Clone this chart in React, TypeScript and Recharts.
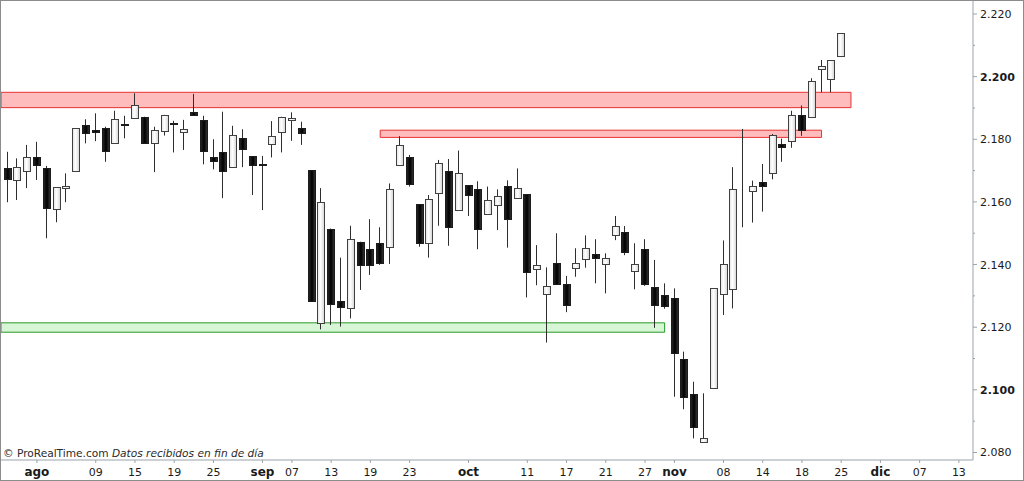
import { ComposedChart, Bar, XAxis, YAxis, ReferenceArea } from "recharts";

// trading-day index 0 = 27 Jul; Aug 1 = 3, Nov 25 = 85 (last session)
const opens = [
  2.1707, 2.167, 2.1699, 2.1742, 2.1709, 2.1576, 2.1644, 2.1699, 2.1846, 2.183,
  2.1835, 2.1789, 2.185, 2.1869, 2.1872, 2.1787, 2.1827, 2.1853, 2.1824, 2.1887,
  2.1861, 2.1742, 2.176, 2.1712, 2.1805, 2.1746, 2.1721, 2.1784, 2.1823, 2.1861,
  2.1837, 2.1702, 2.1214, 2.1515, 2.1285, 2.126, 2.1473, 2.145, 2.1468, 2.1455,
  2.1718, 2.1742, 2.1593, 2.147, 2.1628, 2.1698, 2.1573, 2.1654, 2.1641, 2.1561,
  2.1591, 2.1651, 2.1612, 2.1624, 2.1385, 2.1307, 2.1406, 2.1337, 2.139, 2.1418,
  2.1435, 2.1402, 2.1494, 2.1505, 2.1379, 2.1449, 2.1327, 2.1304, 2.1292, 2.1098,
  2.0986, 2.0832, 2.1005, 2.1305, 2.1321, 2.1684, 2.1635, 2.1665, 2.1691, 2.1784,
  2.1794, 2.1878, 2.1872, 2.2023, 2.1992, 2.2067,
];
const highs = [
  2.176, 2.1739, 2.1782, 2.1792, 2.1715, 2.1647, 2.1691, 2.1836, 2.1864, 2.1883,
  2.184, 2.1891, 2.1875, 2.1947, 2.1872, 2.184, 2.1878, 2.1859, 2.1862, 2.1945,
  2.1875, 2.18, 2.1888, 2.1843, 2.1832, 2.1746, 2.1747, 2.1858, 2.1872, 2.1886,
  2.1856, 2.1702, 2.1644, 2.1515, 2.1422, 2.1524, 2.1473, 2.1545, 2.1519, 2.1659,
  2.181, 2.175, 2.1593, 2.1622, 2.1734, 2.1737, 2.1764, 2.1654, 2.1666, 2.1649,
  2.164, 2.1669, 2.1707, 2.1624, 2.1462, 2.1391, 2.15, 2.1364, 2.1452, 2.1493,
  2.1481, 2.1436, 2.1555, 2.1523, 2.1468, 2.1481, 2.1415, 2.134, 2.1324, 2.1122,
  2.1026, 2.0989, 2.1324, 2.1477, 2.1711, 2.1833, 2.1668, 2.1721, 2.1817, 2.1802,
  2.1891, 2.1908, 2.1995, 2.2053, 2.2052, 2.2138,
];
const lows = [
  2.1599, 2.1606, 2.1644, 2.167, 2.1484, 2.1535, 2.1599, 2.1698, 2.1787, 2.1794,
  2.1728, 2.1789, 2.1803, 2.1869, 2.1789, 2.1695, 2.1812, 2.1758, 2.1766, 2.1876,
  2.172, 2.1704, 2.1612, 2.1712, 2.1711, 2.1622, 2.1574, 2.1742, 2.1758, 2.1795,
  2.1782, 2.1284, 2.1193, 2.1207, 2.1202, 2.1228, 2.1319, 2.1367, 2.1399, 2.1402,
  2.1718, 2.1649, 2.1457, 2.1422, 2.1524, 2.146, 2.1573, 2.1555, 2.1449, 2.1561,
  2.151, 2.1454, 2.1612, 2.1295, 2.1334, 2.1151, 2.1337, 2.1248, 2.1361, 2.139,
  2.134, 2.1308, 2.1478, 2.143, 2.1321, 2.1332, 2.1198, 2.1259, 2.0978, 2.0938,
  2.0845, 2.0832, 2.1005, 2.1239, 2.126, 2.1519, 2.1534, 2.1569, 2.1672, 2.1728,
  2.1773, 2.1811, 2.1872, 2.195, 2.195, 2.2067,
];
const closes = [
  2.1673, 2.1711, 2.1744, 2.1718, 2.158, 2.1647, 2.165, 2.1835, 2.1819, 2.1824,
  2.1763, 2.1866, 2.1846, 2.1909, 2.1789, 2.183, 2.1878, 2.1848, 2.1833, 2.1877,
  2.1763, 2.1732, 2.17, 2.1814, 2.177, 2.1718, 2.1718, 2.181, 2.1872, 2.1869,
  2.1821, 2.1284, 2.1601, 2.1274, 2.1264, 2.1483, 2.1399, 2.1399, 2.1404, 2.1641,
  2.1781, 2.1656, 2.147, 2.1608, 2.1723, 2.152, 2.1691, 2.1621, 2.1515, 2.1606,
  2.1618, 2.1546, 2.1644, 2.1375, 2.14, 2.1332, 2.1337, 2.1272, 2.1405, 2.1453,
  2.142, 2.142, 2.1523, 2.1441, 2.1402, 2.1337, 2.127, 2.1268, 2.1119, 2.0976,
  2.0882, 2.0847, 2.1324, 2.1402, 2.1641, 2.1684, 2.1652, 2.165, 2.1813, 2.1776,
  2.1878, 2.183, 2.1987, 2.2034, 2.2052, 2.2138,
];

const tickIdx = [3, 9, 13, 17, 21, 26, 29, 33, 37, 41, 47, 53, 57, 61, 65, 68, 73, 77, 81, 85, 89, 93, 97];
const tickLabels = ["ago", "09", "15", "19", "25", "sep", "07", "13", "19", "23", "oct", "11", "17", "21", "27", "nov", "08", "14", "18", "25", "dic", "07", "13"];
const monthLabels = ["ago", "sep", "oct", "nov", "dic"];

const yTicks = [2.08, 2.09, 2.1, 2.11, 2.12, 2.13, 2.14, 2.15, 2.16, 2.17, 2.18, 2.19, 2.2, 2.21, 2.22];
const boldTicks = [2.1, 2.2];

// support / resistance zones: [fromIdx, toIdx, low, high]
const resistTop = [null, 86, 2.1901, 2.195] as const;
const resistMid = [38, 83, 2.1806, 2.1829] as const;
const supportLow = [null, 67, 2.1184, 2.1214] as const;

const data = opens.map((o, i) => ({
  i,
  open: o,
  high: highs[i],
  low: lows[i],
  close: closes[i],
  range: [lows[i], highs[i]],
}));

function Candle(props: any) {
  const { x, y, width, height, payload } = props;
  if (height == null || !payload) return null;
  const top = Math.min(y, y + height);
  const h = Math.abs(height);
  const span = payload.high - payload.low;
  const k = span > 0 ? h / span : 0;
  const py = (v: number) => top + (payload.high - v) * k;
  const up = payload.close >= payload.open;
  const cx = Math.round(x + width / 2) - 0.5;
  const bTop = Math.round(py(Math.max(payload.open, payload.close)));
  const bBot = Math.round(py(Math.min(payload.open, payload.close)));
  return (
    <g>
      <line x1={cx} x2={cx} y1={top} y2={top + h} stroke="#2e2e2e" strokeWidth={1} />
      <rect
        x={Math.round(x) + 0.5}
        y={bTop + 0.5}
        width={Math.round(width) - 1}
        height={Math.max(bBot - bTop, 0)}
        fill={up ? "url(#upFill)" : "url(#downFill)"}
        stroke={up ? "#404040" : "#1c1c1c"}
        strokeWidth={1}
      />
    </g>
  );
}

function XTick(props: any) {
  const { x, y, payload } = props;
  const k = tickIdx.indexOf(payload.value);
  const label = tickLabels[k];
  const month = monthLabels.includes(label);
  return (
    <text
      x={x}
      y={y}
      dy={10.5}
      textAnchor="middle"
      fill="#1a1a1a"
      fontSize={month ? 12 : 11}
      fontWeight={month ? "bold" : "normal"}
      fontFamily="DejaVu Sans"
    >
      {label}
    </text>
  );
}

function YTick(props: any) {
  const { x, y, payload } = props;
  const v = payload.value as number;
  const major = Math.round(v * 100) % 2 === 0;
  const bold = boldTicks.some((b) => Math.abs(b - v) < 1e-6);
  return (
    <g>
      <line x1={x - 7} x2={x - (major ? 3 : 5)} y1={y} y2={y} stroke="#9aa3ab" />
      {major && (
        <text x={x} y={y} dy={4} fill="#1a1a1a" fontSize={11} fontWeight={bold ? "bold" : "normal"} fontFamily="DejaVu Sans">
          {v.toFixed(3)}
        </text>
      )}
    </g>
  );
}

export default function App() {
  return (
    <div
      style={{
        position: "absolute",
        left: 0,
        top: 0,
        width: 1024,
        height: 481,
        boxSizing: "border-box",
        border: "1px solid #8c8c8c",
        background: "#fff",
        overflow: "hidden",
      }}
    >
      <ComposedChart width={1022} height={479} data={data} margin={{ top: 0, right: 0, bottom: 0, left: 0 }}>
        <defs>
          <linearGradient id="upFill" x1="0" y1="0" x2="1" y2="0">
            <stop offset="0%" stopColor="#e4e4e4" />
            <stop offset="45%" stopColor="#ffffff" />
            <stop offset="100%" stopColor="#d4d4d4" />
          </linearGradient>
          <linearGradient id="downFill" x1="0" y1="0" x2="1" y2="0">
            <stop offset="0%" stopColor="#2a2a2a" />
            <stop offset="50%" stopColor="#000000" />
            <stop offset="100%" stopColor="#383838" />
          </linearGradient>
        </defs>
        <XAxis
          dataKey="i"
          type="number"
          domain={[-0.66, 98.44]}
          allowDataOverflow
          ticks={tickIdx}
          interval={0}
          height={20}
          tickSize={3}
          tickMargin={2}
          tick={<XTick />}
          stroke="#9aa3ab"
          tickLine={{ stroke: "#9aa3ab" }}
        />
        <YAxis
          orientation="right"
          type="number"
          domain={[2.0776, 2.22415]}
          allowDataOverflow
          ticks={yTicks}
          interval={0}
          width={50}
          tickSize={4}
          tickMargin={3}
          tickLine={false}
          tick={<YTick />}
          stroke="#9aa3ab"
        />
        <Bar dataKey="range" barSize={8} shape={<Candle />} isAnimationActive={false} />
        <ReferenceArea
          x2={resistTop[1]}
          y1={resistTop[2]}
          y2={resistTop[3]}
          fill="#ff2020"
          fillOpacity={0.3}
          stroke="#e83232"
          strokeOpacity={1}
        />
        <ReferenceArea
          x1={resistMid[0]}
          x2={resistMid[1]}
          y1={resistMid[2]}
          y2={resistMid[3]}
          fill="#ff2020"
          fillOpacity={0.3}
          stroke="#e83232"
          strokeOpacity={1}
        />
        <ReferenceArea
          x2={supportLow[1]}
          y1={supportLow[2]}
          y2={supportLow[3]}
          fill="#30d030"
          fillOpacity={0.2}
          stroke="#2a9a2a"
          strokeOpacity={1}
        />
      </ComposedChart>
      <div
        style={{
          position: "absolute",
          left: 2,
          top: 445,
          fontFamily: "DejaVu Sans",
          fontSize: 10.6,
          lineHeight: "14px",
          color: "#2a2a2a",
          whiteSpace: "nowrap",
        }}
      >
        © ProRealTime.com <i>Datos recibidos en fin de día</i>
      </div>
    </div>
  );
}
